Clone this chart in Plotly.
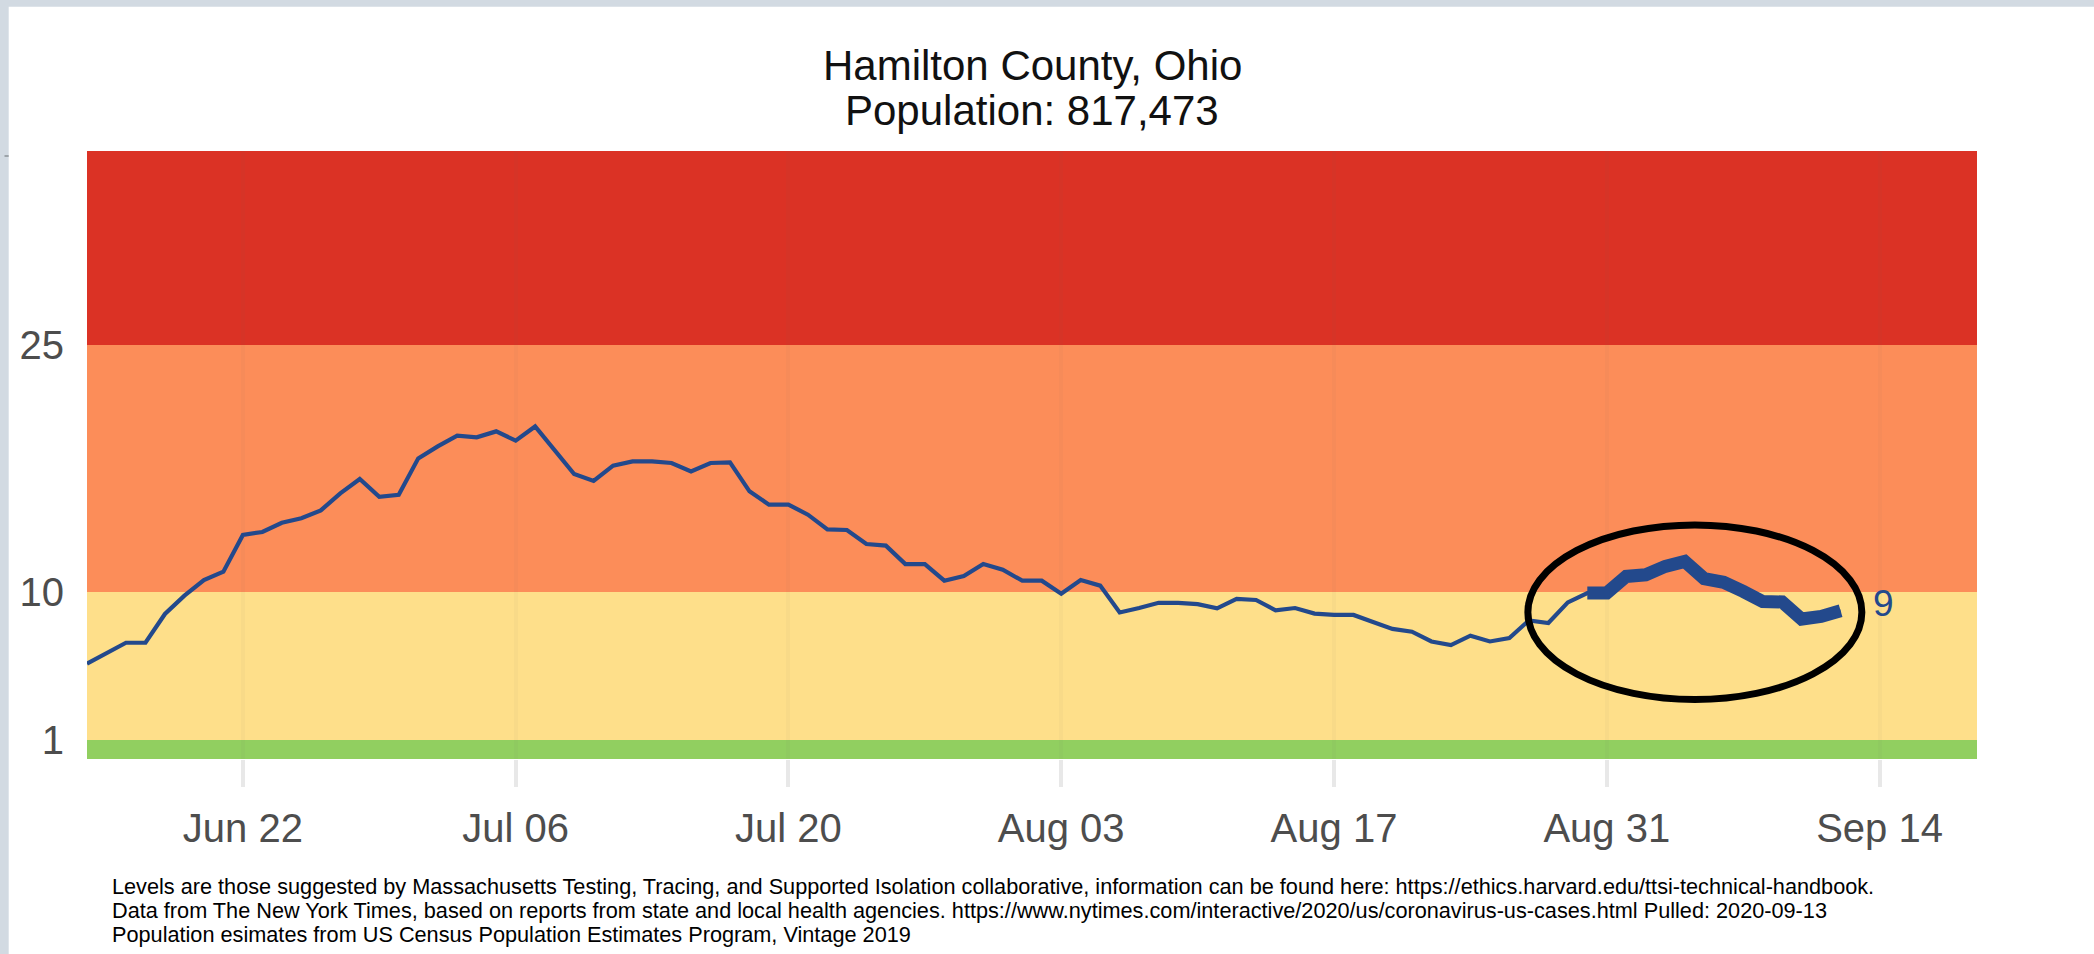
import plotly.graph_objects as go
import pandas as pd

# ---------------- data ----------------
start_date = "2020-06-14"
end_date = "2020-09-12"
values = [
    # Jun 14 - Jun 30
    5.64, 6.25, 6.91, 6.91, 8.66, 9.77, 10.72, 11.23, 13.46, 13.64, 14.20, 14.47,
    14.95, 15.98, 16.86, 15.78, 15.90,
    # Jul 1 - Jul 31
    18.11, 18.84, 19.49, 19.39, 19.75, 19.19, 20.05, 18.60, 17.16, 16.74, 17.67,
    17.93, 17.93, 17.83, 17.32, 17.83, 17.87, 16.11, 15.30, 15.30, 14.69, 13.80,
    13.76, 12.91, 12.81, 11.69, 11.69, 10.68, 10.97, 11.69, 11.35,
    # Aug 1 - Aug 31
    10.68, 10.68, 9.89, 10.72, 10.38, 8.75, 9.02, 9.34, 9.33, 9.26, 9.00, 9.57,
    9.51, 8.88, 9.02, 8.68, 8.61, 8.60, 8.17, 7.75, 7.58, 6.99, 6.77, 7.34, 6.99,
    7.20, 8.27, 8.11, 9.36, 9.93, 9.93,
    # Sep 1 - Sep 12
    10.94, 11.04, 11.55, 11.85, 10.80, 10.58, 10.03, 9.42, 9.39, 8.35, 8.51, 8.86,
]
highlight_days = 14

band_edges = [-0.15, 1, 10, 25, 36.78]
band_colors = ["#91cf60", "#fedf8a", "#fc8d59", "#db3225"]

x_tick_dates = ["2020-06-22", "2020-07-06", "2020-07-20", "2020-08-03",
                "2020-08-17", "2020-08-31", "2020-09-14"]
x_tick_labels = ["Jun 22", "Jul 06", "Jul 20", "Aug 03", "Aug 17", "Aug 31", "Sep 14"]
x_range = ["2020-06-14", "2020-09-19"]
y_ticks = [1, 10, 25]
y_tick_labels = ["1", "10", "25"]

ellipse_x = ["2020-08-26 22:48", "2020-09-13 02:10"]
ellipse_y = [3.46, 14.07]

title_lines = ["Hamilton County, Ohio", "Population: 817,473"]
caption_lines = [
    "Levels are those suggested by Massachusetts Testing, Tracing, and Supported Isolation collaborative, information can be found here: https://ethics.harvard.edu/ttsi-technical-handbook.",
    "Data from The New York Times, based on reports from state and local health agencies. https://www.nytimes.com/interactive/2020/us/coronavirus-us-cases.html Pulled: 2020-09-13",
    "Population esimates from US Census Population Estimates Program, Vintage 2019",
]

# ---------------- layout geometry ----------------
W, H = 2094, 954
L, R, T, B = 87, 117, 151, 195
PW, PH = W - L - R, H - T - B
FONT = "Liberation Sans, Arial, sans-serif"
LINE_COLOR = "#23498c"
FRAME = "#d2dae2"


def fx(px):
    return (px - L) / PW


def fy(py):
    return (H - B - py) / PH


dates = pd.date_range(start_date, end_date, freq="D")

fig = go.Figure()
fig.add_trace(go.Scatter(x=dates, y=values, mode="lines",
                         line=dict(color=LINE_COLOR, width=4.2),
                         showlegend=False, hoverinfo="x+y"))
fig.add_trace(go.Scatter(x=dates[-highlight_days:], y=values[-highlight_days:],
                         mode="lines", line=dict(color=LINE_COLOR, width=13),
                         showlegend=False, hoverinfo="x+y"))

shapes = []
# risk-level bands
for i, col in enumerate(band_colors):
    shapes.append(dict(type="rect", xref="paper", yref="y", x0=0, x1=1,
                       y0=band_edges[i], y1=band_edges[i + 1],
                       fillcolor=col, line=dict(width=0), layer="below"))
# screenshot frame
shapes.append(dict(type="rect", xref="paper", yref="paper", x0=fx(0), x1=fx(8.7),
                   y0=fy(H), y1=fy(0), fillcolor=FRAME, line=dict(width=0), layer="below"))
shapes.append(dict(type="rect", xref="paper", yref="paper", x0=fx(0), x1=fx(W),
                   y0=fy(6.7), y1=fy(0), fillcolor=FRAME, line=dict(width=0), layer="below"))
shapes.append(dict(type="line", xref="paper", yref="paper", x0=fx(4.5), x1=fx(8.7),
                   y0=fy(156), y1=fy(156), line=dict(color="#8a9096", width=1.5)))
# highlight ellipse
shapes.append(dict(type="circle", xref="x", yref="y",
                   x0=ellipse_x[0], x1=ellipse_x[1], y0=ellipse_y[0], y1=ellipse_y[1],
                   line=dict(color="black", width=7), layer="above"))

annotations = []
# last value label
annotations.append(dict(x=dates[-1], y=values[-1], xref="x", yref="y",
                        text=str(round(values[-1])), showarrow=False,
                        xanchor="left", yanchor="middle", xshift=30, yshift=7,
                        font=dict(family=FONT, size=37, color=LINE_COLOR)))
# title lines
for txt, cy in zip(title_lines, [65.5, 110.0]):
    annotations.append(dict(x=fx(1032), y=fy(cy), xref="paper", yref="paper",
                            text=txt, showarrow=False, xanchor="center", yanchor="middle",
                            font=dict(family=FONT, size=42, color="#111111")))
# caption lines
for txt, cy in zip(caption_lines, [886, 910, 934]):
    annotations.append(dict(x=fx(110), y=fy(cy), xref="paper", yref="paper",
                            text=txt, showarrow=False, xanchor="left", yanchor="middle",
                            font=dict(family=FONT, size=21.7, color="#000000")))

fig.update_layout(
    width=W, height=H, autosize=False,
    margin=dict(l=L, r=R, t=T, b=B, pad=0),
    paper_bgcolor="white", plot_bgcolor="white",
    shapes=shapes, annotations=annotations,
    showlegend=False,
    xaxis=dict(type="date", range=x_range, tickvals=x_tick_dates, ticktext=x_tick_labels,
               showgrid=True, gridcolor="rgba(90,90,90,0.04)", gridwidth=4,
               ticks="outside", ticklen=27, tickwidth=4, tickcolor="#e8e8e8",
               ticklabelstandoff=7,
               tickfont=dict(family=FONT, size=40, color="#4d4d4d"),
               showline=False, zeroline=False, fixedrange=True),
    yaxis=dict(range=[band_edges[0], band_edges[-1]], tickvals=y_ticks, ticktext=y_tick_labels,
               showgrid=False, zeroline=False, showline=False, ticks="",
               ticklabelstandoff=22,
               tickfont=dict(family=FONT, size=40, color="#4d4d4d"), fixedrange=True),
)

fig.write_html(
    "out.html",
    config={"displayModeBar": False},
    post_script="document.body.style.margin='0px';document.body.style.overflow='hidden';",
)
